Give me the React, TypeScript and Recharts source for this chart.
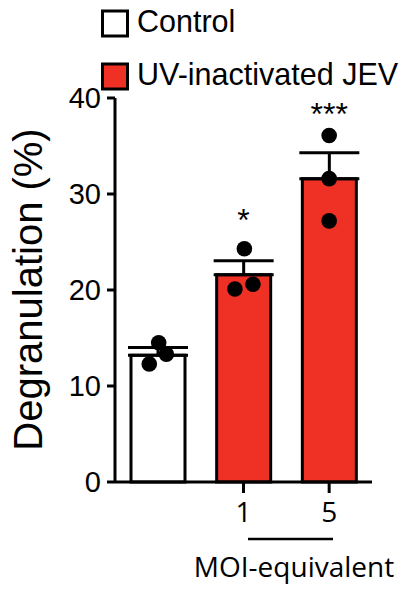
import React from 'react';
import { ComposedChart, Bar, XAxis, YAxis, Scatter, ErrorBar, Customized, Cell } from 'recharts';

const categories = ['Control', 'MOI 1', 'MOI 5'];
const tickLabels = ['', '1', '5'];
const means = [13.2, 21.6, 31.6];
const sems = [0.8, 1.45, 2.7];
const barGroup = [0, 1, 1];
const seriesNames = ['Control', 'UV-inactivated JEV'];
const seriesColors = ['#FFFFFF', '#EE3124'];
const yTicks = [0, 10, 20, 30, 40];

const pointX = [0.51, 0.4, 0.6, 1.51, 1.4, 1.61, 2.5, 2.5, 2.5];
const pointY = [14.5, 12.3, 13.3, 24.3, 20.1, 20.6, 36.1, 31.6, 27.2];

const sigX = [1.5, 2.5];
const sigY = [26.1, 37.2];
const sigLabels = ['*', '***'];

const FONT = '"Liberation Sans", Arial, Helvetica, sans-serif';
const FONT2 = '"Open Sans", "Liberation Sans", sans-serif';

const barData = categories.map((c, i) => ({
  name: c,
  mean: means[i],
  err: [0, sems[i]],
  group: barGroup[i],
}));
const points = pointX.map((x, i) => ({ x, y: pointY[i] }));
const stars = sigX.map((x, i) => ({ x, y: sigY[i], label: sigLabels[i] }));

const XTick = (props: any) => {
  const { x, y, payload } = props;
  const lbl = tickLabels[payload.index];
  if (!lbl) return null;
  return (
    <g>
      <line x1={x} x2={x} y1={y} y2={y + 11} stroke="#000" strokeWidth={3} />
      <text x={x} y={y + 40} textAnchor="middle" fontSize={28} fontFamily={FONT2} fill="#000">
        {lbl}
      </text>
    </g>
  );
};

const Overlay = () => (
  <g>
    {seriesNames.map((n, i) => (
      <g key={n}>
        <rect x={102.5} y={11} width={25} height={25} transform={`translate(0 ${i * 53})`} fill={seriesColors[i]} stroke="#000" strokeWidth={3} />
        <text x={137} y={32 + i * 53} fontSize={30.5} fontFamily={FONT} fill="#000">
          {n}
        </text>
      </g>
    ))}
    <text
      x={42}
      y={289.5}
      transform="rotate(-90 42 289.5)"
      textAnchor="middle"
      fontSize={40}
      fontFamily={FONT}
      fill="#000"
    >
      Degranulation (%)
    </text>
    <line x1={248} x2={333} y1={539} y2={539} stroke="#000" strokeWidth={2.5} />
    <text x={294} y={577} textAnchor="middle" fontSize={28} fontFamily={FONT2} fill="#000">
      MOI-equivalent
    </text>
  </g>
);

const Dot = (props: any) => <circle cx={props.cx} cy={props.cy} r={7.8} fill="#000" />;
const Star = (props: any) => (
  <text x={props.cx} y={props.cy} textAnchor="middle" fontSize={32} fontFamily={FONT} fill="#000">
    {props.payload.label}
  </text>
);

export default function App() {
  return (
    <div style={{ position: 'absolute', left: 0, top: 0, background: '#fff' }}>
      <ComposedChart
        width={409}
        height={590}
        data={barData}
        margin={{ top: 98, right: 37, bottom: 78, left: 0 }}
        style={{ fontFamily: FONT }}
      >
        <XAxis
          xAxisId="cat"
          dataKey="name"
          type="category"
          height={30}
          interval={0}
          tickLine={false}
          tickSize={0}
          tickMargin={0}
          axisLine={{ stroke: '#000', strokeWidth: 3 }}
          tick={<XTick />}
        />
        <XAxis xAxisId="num" dataKey="x" type="number" domain={[0, 3]} hide height={0} allowDataOverflow />
        <YAxis
          domain={[0, 40]}
          ticks={yTicks}
          width={115}
          interval={0}
          tickSize={8}
          tickMargin={6}
          axisLine={{ stroke: '#000', strokeWidth: 3 }}
          tickLine={{ stroke: '#000', strokeWidth: 3 }}
          tick={{ fill: '#000', fontSize: 29, fontFamily: FONT }}
        />
        <Bar xAxisId="cat" dataKey="mean" barSize={54} stroke="#000" strokeWidth={3} isAnimationActive={false}>
          {barData.map((d, i) => (
            <Cell key={i} fill={seriesColors[d.group]} />
          ))}
          <ErrorBar dataKey="err" width={30} strokeWidth={3} stroke="#000" direction="y" />
        </Bar>
        <Scatter xAxisId="num" data={points} dataKey="y" shape={<Dot />} isAnimationActive={false} />
        <Scatter xAxisId="num" data={stars} dataKey="y" shape={<Star />} isAnimationActive={false} />
        <Customized component={<Overlay />} />
      </ComposedChart>
    </div>
  );
}
